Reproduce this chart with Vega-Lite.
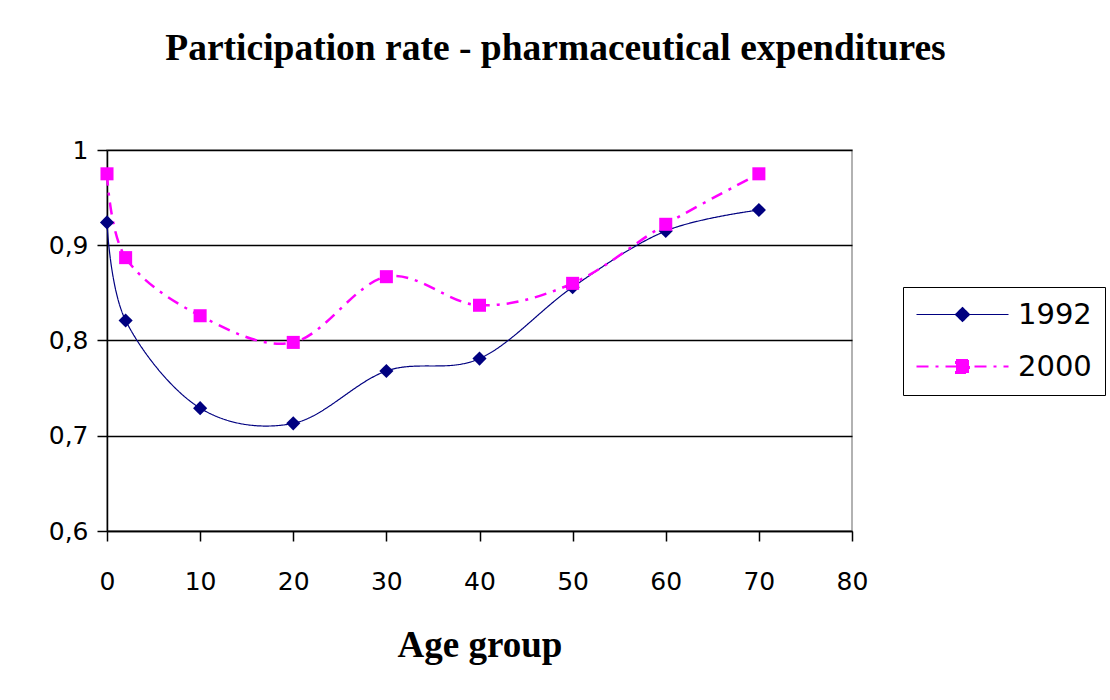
{
  "$schema": "https://vega.github.io/schema/vega-lite/v6.json",
  "width": 745,
  "height": 381,
  "autosize": {"type": "none"},
  "padding": {"left": 107, "top": 150, "right": 258, "bottom": 169},
  "background": "white",
  "title": {
    "text": "Participation rate - pharmaceutical expenditures",
    "font": "Liberation Serif",
    "fontSize": 37.5,
    "fontWeight": "bold",
    "color": "black",
    "anchor": "middle",
    "frame": "group",
    "dx": 76,
    "offset": 41,
    "baseline": "alphabetic"
  },
  "data": {
    "values": [
      {"year": "1992", "age": 0, "rate": 0.924},
      {"year": "1992", "age": 2, "rate": 0.821},
      {"year": "1992", "age": 10, "rate": 0.729},
      {"year": "1992", "age": 20, "rate": 0.713},
      {"year": "1992", "age": 30, "rate": 0.768},
      {"year": "1992", "age": 40, "rate": 0.781},
      {"year": "1992", "age": 50, "rate": 0.856},
      {"year": "1992", "age": 60, "rate": 0.915},
      {"year": "1992", "age": 70, "rate": 0.937},
      {"year": "2000", "age": 0, "rate": 0.975},
      {"year": "2000", "age": 2, "rate": 0.887},
      {"year": "2000", "age": 10, "rate": 0.826},
      {"year": "2000", "age": 20, "rate": 0.798},
      {"year": "2000", "age": 30, "rate": 0.867},
      {"year": "2000", "age": 40, "rate": 0.837},
      {"year": "2000", "age": 50, "rate": 0.860},
      {"year": "2000", "age": 60, "rate": 0.922},
      {"year": "2000", "age": 70, "rate": 0.975}
    ]
  },
  "encoding": {
    "x": {
      "field": "age",
      "type": "quantitative",
      "scale": {"domain": [0, 80], "nice": false, "zero": false},
      "axis": {
        "title": "Age group",
        "titleFont": "Liberation Serif",
        "titleFontSize": 37,
        "titleFontWeight": "bold",
        "titleColor": "black",
        "titlePadding": 33,
        "values": [0, 10, 20, 30, 40, 50, 60, 70, 80],
        "labelFont": "DejaVu Sans",
        "labelFontSize": 25,
        "labelColor": "black",
        "labelPadding": 28,
        "labelFlush": false,
        "labelOverlap": false,
        "tickSize": 10,
        "tickColor": "black",
        "tickWidth": 1.5,
        "domainColor": "black",
        "domainWidth": 1.5,
        "grid": false
      }
    },
    "y": {
      "field": "rate",
      "type": "quantitative",
      "scale": {"domain": [0.6, 1], "nice": false, "zero": false},
      "axis": {
        "title": null,
        "values": [0.6, 0.7, 0.8, 0.9, 1],
        "labelExpr": "replace(format(datum.value, '~g'), '.', ',')",
        "labelFont": "DejaVu Sans",
        "labelFontSize": 25,
        "labelColor": "black",
        "labelPadding": 9,
        "labelFlush": false,
        "labelOverlap": false,
        "tickSize": 10,
        "tickColor": "black",
        "tickWidth": 1.5,
        "domainColor": "black",
        "domainWidth": 1.5,
        "grid": true,
        "gridColor": "black",
        "gridWidth": 1.5,
        "gridOpacity": 1
      }
    },
    "color": {
      "field": "year",
      "type": "nominal",
      "scale": {"domain": ["1992", "2000"], "range": ["#000080", "#FF00FF"]},
      "legend": {
        "title": null,
        "orient": "none",
        "legendX": 796,
        "legendY": 137,
        "strokeColor": "black",
        "fillColor": "white",
        "padding": 13,
        "labelFont": "DejaVu Sans",
        "labelFontSize": 29,
        "labelColor": "black",
        "labelOffset": 73,
        "rowPadding": 22,
        "symbolSize": 400,
        "encode": {
          "symbols": {
            "update": {
              "shape": {"signal": "datum.value === '1992' ? 'M-1.4,0H7.8M3.2,-0.7L3.9,0L3.2,0.7L2.5,0Z' : 'M-1.4,0H7.8M2.55,-0.65H3.85V0.65H2.55Z'"},
              "fill": {"signal": "datum.value === '1992' ? '#000080' : '#FF00FF'"},
              "stroke": {"signal": "datum.value === '1992' ? '#000080' : '#FF00FF'"},
              "strokeWidth": {"signal": "datum.value === '1992' ? 1.2 : 2"},
              "strokeDash": {"signal": "datum.value === '1992' ? [1, 0] : [12, 7, 3, 7]"},
              "opacity": {"value": 1}
            }
          }
        }
      }
    }
  },
  "layer": [
    {
      "mark": {"type": "line", "interpolate": "cardinal"},
      "encoding": {
        "strokeDash": {
          "field": "year",
          "type": "nominal",
          "scale": {"domain": ["1992", "2000"], "range": [[1, 0], [12, 7, 3, 7]]},
          "legend": null
        },
        "strokeWidth": {
          "condition": {"test": "datum.year === '2000'", "value": 2.5},
          "value": 1.2
        }
      }
    },
    {
      "mark": {"type": "point", "filled": true, "opacity": 1},
      "encoding": {
        "shape": {
          "condition": {"test": "datum.year === '1992'", "value": "diamond"},
          "value": "square"
        },
        "size": {
          "condition": {"test": "datum.year === '1992'", "value": 200},
          "value": 170
        }
      }
    }
  ],
  "config": {
    "view": {"stroke": "#999999", "strokeWidth": 1.5}
  }
}
